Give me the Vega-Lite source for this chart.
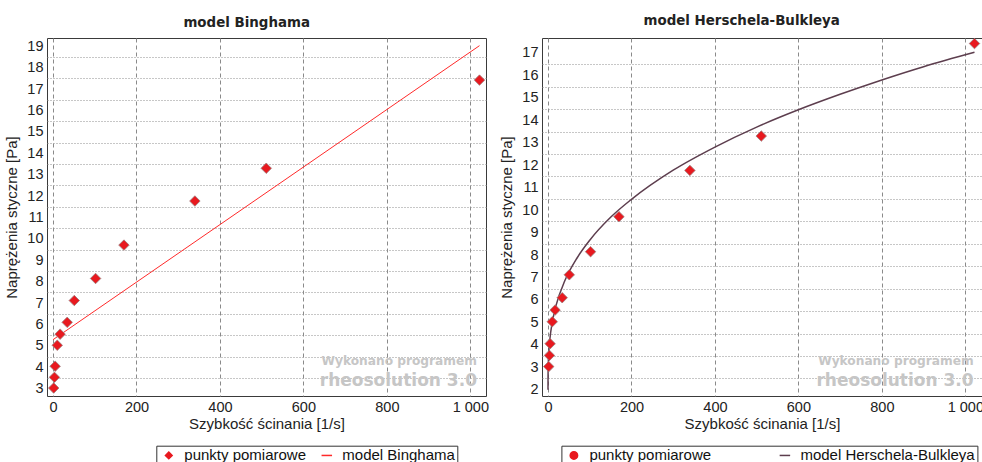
{
  "$schema": "https://vega.github.io/schema/vega-lite/v6.json",
  "padding": {"left": 4, "top": 13, "right": 0, "bottom": 0},
  "background": "white",
  "config": {
    "font": "Liberation Sans",
    "view": {"stroke": "#3a3a3a", "strokeWidth": 1},
    "axis": {
      "labelFont": "Liberation Sans", "labelFontSize": 14.5, "labelColor": "#222",
      "titleFont": "Liberation Sans", "titleFontSize": 15, "titleFontWeight": "normal", "titleColor": "#222",
      "domain": false, "ticks": false, "labelFlush": false, "labelOverlap": false
    },
    "title": {"font": "DejaVu Sans", "fontSize": 13.4, "fontWeight": "bold", "color": "#222", "offset": 9, "frame": "bounds", "anchor": "middle"},
    "legend": {
      "orient": "none", "direction": "horizontal", "columns": 2, "gridAlign": "all",
      "columnPadding": 10, "labelFont": "Liberation Sans", "labelFontSize": 15, "labelColor": "#111",
      "strokeColor": "#333", "fillColor": "white", "padding": 2, "symbolOffset": 3, "labelOffset": 8,
      "symbolSize": 100, "labelLimit": 400
    },
    "concat": {"spacing": 10}
  },
  "datasets": {
    "pts": [
      {"g": 1.7, "t": 3.03}, {"g": 3.4, "t": 3.53}, {"g": 5.1, "t": 4.05}, {"g": 10.2, "t": 5.03},
      {"g": 17, "t": 5.55}, {"g": 34, "t": 6.1}, {"g": 51, "t": 7.12}, {"g": 102, "t": 8.15},
      {"g": 170, "t": 9.71}, {"g": 340, "t": 11.77}, {"g": 511, "t": 13.3}, {"g": 1022, "t": 17.42}
    ],
    "bingham": [{"g": 0, "t": 5.29}, {"g": 1022, "t": 19.03}],
    "hb": [
      {"g": 0, "t": 2.0}, {"g": 0.02, "t": 2.34}, {"g": 0.1, "t": 2.59}, {"g": 0.5, "t": 3.04},
      {"g": 1, "t": 3.33}, {"g": 2, "t": 3.69}, {"g": 5, "t": 4.34}, {"g": 10, "t": 4.98},
      {"g": 20, "t": 5.8}, {"g": 40, "t": 6.84}, {"g": 70, "t": 7.88}, {"g": 100, "t": 8.66},
      {"g": 150, "t": 9.68}, {"g": 200, "t": 10.48}, {"g": 300, "t": 11.78}, {"g": 400, "t": 12.81},
      {"g": 500, "t": 13.7}, {"g": 600, "t": 14.47}, {"g": 700, "t": 15.16}, {"g": 800, "t": 15.8},
      {"g": 900, "t": 16.39}, {"g": 1022, "t": 17.03}
    ]
  },
  "resolve": {"scale": {"x": "independent", "y": "independent", "color": "independent"}},
  "hconcat": [
    {
      "width": 439, "height": 358,
      "title": "model Binghama",
      "layer": [
        {
          "data": {"name": "bingham"},
          "mark": {"type": "line", "strokeWidth": 1, "color": "#ff2a2a"},
          "encoding": {
            "x": {"field": "g", "type": "quantitative", "title": "Szybkość ścinania [1/s]",
              "scale": {"domain": [-14.4, 1037.6], "nice": false, "zero": false},
              "axis": {"values": [0, 200, 400, 600, 800, 1000], "tickCount": 50,
                "labelExpr": "replace(format(datum.value, ','), ',', ' ')",
                "gridDash": [4, 3], "gridColor": "#8a8a8a", "gridWidth": 1,
                "labelPadding": 4, "titlePadding": 3, "labelOverlap": false}},
            "y": {"field": "t", "type": "quantitative", "title": "Naprężenia styczne [Pa]",
              "scale": {"domain": [2.659, 19.388], "nice": false, "zero": false},
              "axis": {"values": [3,4,5,6,7,8,9,10,11,12,13,14,15,16,17,18,19], "tickCount": 50, "format": "d",
                "tickOffset": 10.7, "labelOffset": -10.7, "labelOverlap": false,
                "gridDash": [1, 2], "gridColor": "#8f8f8f",
                "gridOpacity": {"condition": {"test": "datum.value == 3", "value": 0}, "value": 1},
                "labelPadding": 4, "titlePadding": 7}},
            "color": {"datum": "model Binghama",
              "legend": {"title": null, "legendX": 109.3, "legendY": 407.7,
                "encode": {"symbols": {"update": {
                  "shape": {"signal": "datum.value === 'model Binghama' ? 'stroke' : 'diamond'"},
                  "fill": {"signal": "datum.value === 'model Binghama' ? 'transparent' : '#e8191f'"},
                  "stroke": {"signal": "datum.value === 'model Binghama' ? '#ff2a2a' : '#e8191f'"},
                  "strokeWidth": {"value": 1.5},
                  "size": {"signal": "datum.value === 'model Binghama' ? 110 : 45"},
                  "opacity": {"value": 1}
                }}}}}
          }
        },
        {
          "data": {"name": "pts"},
          "mark": {"type": "point", "shape": "diamond", "filled": true, "size": 110, "opacity": 1, "stroke": "#9a7f7f", "strokeWidth": 0.8},
          "encoding": {
            "x": {"field": "g", "type": "quantitative"},
            "y": {"field": "t", "type": "quantitative"},
            "color": {"datum": "punkty pomiarowe",
              "scale": {"domain": ["punkty pomiarowe", "model Binghama"], "range": ["#e8191f", "#ff2a2a"]},
              "legend": {"title": null, "legendX": 109.3, "legendY": 407.7,
                "encode": {"symbols": {"update": {
                  "shape": {"signal": "datum.value === 'model Binghama' ? 'stroke' : 'diamond'"},
                  "fill": {"signal": "datum.value === 'model Binghama' ? 'transparent' : '#e8191f'"},
                  "stroke": {"signal": "datum.value === 'model Binghama' ? '#ff2a2a' : '#e8191f'"},
                  "strokeWidth": {"value": 1.5},
                  "size": {"signal": "datum.value === 'model Binghama' ? 110 : 45"},
                  "opacity": {"value": 1}
                }}}}}
          }
        },
        {
          "data": {"values": [{}]},
          "mark": {"type": "text", "align": "right", "baseline": "middle", "font": "DejaVu Sans", "fontWeight": "bold", "fontSize": 12.2, "color": "#c6c6c6"},
          "encoding": {
            "x": {"datum": 1016, "type": "quantitative"},
            "y": {"datum": 4.29, "type": "quantitative"},
            "text": {"value": "Wykonano programem"}
          }
        },
        {
          "data": {"values": [{}]},
          "mark": {"type": "text", "align": "right", "baseline": "middle", "font": "DejaVu Sans", "fontWeight": "bold", "fontSize": 17, "color": "#c6c6c6"},
          "encoding": {
            "x": {"datum": 1016, "type": "quantitative"},
            "y": {"datum": 3.36, "type": "quantitative"},
            "text": {"value": "rheosolution 3.0"}
          }
        }
      ]
    },
    {
      "width": 440, "height": 358,
      "title": "model Herschela-Bulkleya",
      "layer": [
        {
          "data": {"name": "hb"},
          "mark": {"type": "line", "strokeWidth": 1.5, "color": "#5d3e4e", "interpolate": "monotone"},
          "encoding": {
            "x": {"field": "g", "type": "quantitative", "title": "Szybkość ścinania [1/s]",
              "scale": {"domain": [-14.4, 1040], "nice": false, "zero": false},
              "axis": {"values": [0, 200, 400, 600, 800, 1000], "tickCount": 50,
                "labelExpr": "replace(format(datum.value, ','), ',', ' ')",
                "gridDash": [4, 3], "gridColor": "#8a8a8a", "gridWidth": 1,
                "labelPadding": 4, "titlePadding": 3, "labelOverlap": false}},
            "y": {"field": "t", "type": "quantitative", "title": "Naprężenia styczne [Pa]",
              "scale": {"domain": [1.721, 17.668], "nice": false, "zero": false},
              "axis": {"values": [2,3,4,5,6,7,8,9,10,11,12,13,14,15,16,17], "tickCount": 50, "format": "d",
                "tickOffset": 11.2, "labelOffset": -11.2, "labelOverlap": false,
                "gridDash": [1, 2], "gridColor": "#8f8f8f",
                "gridOpacity": {"condition": {"test": "datum.value == 2", "value": 0}, "value": 1},
                "labelPadding": 4, "titlePadding": 7}},
            "color": {"datum": "model Herschela-Bulkleya",
              "legend": {"title": null, "legendX": 19.4, "legendY": 407.7,
                "encode": {"symbols": {"update": {
                  "shape": {"signal": "datum.value === 'model Herschela-Bulkleya' ? 'stroke' : 'circle'"},
                  "fill": {"signal": "datum.value === 'model Herschela-Bulkleya' ? 'transparent' : '#e8191f'"},
                  "stroke": {"signal": "datum.value === 'model Herschela-Bulkleya' ? '#5d3e4e' : '#e8191f'"},
                  "strokeWidth": {"value": 1.5},
                  "size": {"signal": "datum.value === 'model Herschela-Bulkleya' ? 110 : 55"},
                  "opacity": {"value": 1}
                }}}}}
          }
        },
        {
          "data": {"name": "pts"},
          "mark": {"type": "point", "shape": "diamond", "filled": true, "size": 110, "opacity": 1, "stroke": "#9a7f7f", "strokeWidth": 0.8},
          "encoding": {
            "x": {"field": "g", "type": "quantitative"},
            "y": {"field": "t", "type": "quantitative"},
            "color": {"datum": "punkty pomiarowe",
              "scale": {"domain": ["punkty pomiarowe", "model Herschela-Bulkleya"], "range": ["#e8191f", "#5d3e4e"]},
              "legend": {"title": null, "legendX": 19.4, "legendY": 407.7,
                "encode": {"symbols": {"update": {
                  "shape": {"signal": "datum.value === 'model Herschela-Bulkleya' ? 'stroke' : 'circle'"},
                  "fill": {"signal": "datum.value === 'model Herschela-Bulkleya' ? 'transparent' : '#e8191f'"},
                  "stroke": {"signal": "datum.value === 'model Herschela-Bulkleya' ? '#5d3e4e' : '#e8191f'"},
                  "strokeWidth": {"value": 1.5},
                  "size": {"signal": "datum.value === 'model Herschela-Bulkleya' ? 110 : 55"},
                  "opacity": {"value": 1}
                }}}}}
          }
        },
        {
          "data": {"values": [{}]},
          "mark": {"type": "text", "align": "right", "baseline": "middle", "font": "DejaVu Sans", "fontWeight": "bold", "fontSize": 12.2, "color": "#c6c6c6"},
          "encoding": {
            "x": {"datum": 1020, "type": "quantitative"},
            "y": {"datum": 3.26, "type": "quantitative"},
            "text": {"value": "Wykonano programem"}
          }
        },
        {
          "data": {"values": [{}]},
          "mark": {"type": "text", "align": "right", "baseline": "middle", "font": "DejaVu Sans", "fontWeight": "bold", "fontSize": 17, "color": "#c6c6c6"},
          "encoding": {
            "x": {"datum": 1020, "type": "quantitative"},
            "y": {"datum": 2.39, "type": "quantitative"},
            "text": {"value": "rheosolution 3.0"}
          }
        }
      ]
    }
  ]
}
